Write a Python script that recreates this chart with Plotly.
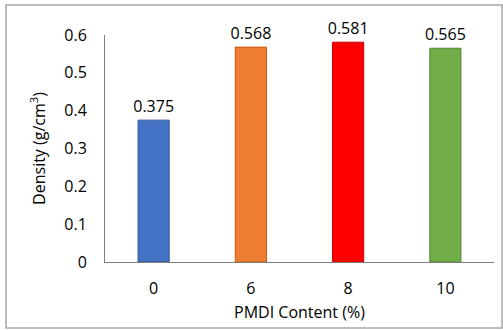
import plotly.graph_objects as go

categories = ["0", "6", "8", "10"]
density = [0.375, 0.568, 0.581, 0.565]
labels = ["0.375", "0.568", "0.581", "0.565"]
colors = ["#4472C4", "#ED7D31", "#FF0000", "#70AD47"]
edge_colors = ["#2F5597", "#C55A11", "#C00000", "#548235"]

font_family = "Open Sans, Liberation Sans, sans-serif"

fig = go.Figure(
    go.Bar(
        x=categories,
        y=density,
        text=labels,
        textposition="outside",
        constraintext="none",
        textfont=dict(size=16, color="#000000", family=font_family),
        marker=dict(color=colors, line=dict(color=edge_colors, width=1)),
        width=0.32,
        cliponaxis=False,
    )
)

fig.update_layout(
    width=503,
    height=330,
    margin=dict(l=105, r=9, t=35, b=68),
    paper_bgcolor="white",
    plot_bgcolor="white",
    showlegend=False,
    font=dict(family=font_family, size=16, color="#000000"),
    xaxis=dict(
        type="category",
        automargin=False,
        showline=True,
        linecolor="#7F7F7F",
        linewidth=1,
        showgrid=False,
        ticks="",
        ticklabelstandoff=12,
        tickfont=dict(size=16),
        title=dict(text="PMDI Content (%)", font=dict(size=16), standoff=8),
    ),
    yaxis=dict(
        range=[0, 0.6],
        dtick=0.1,
        automargin=False,
        showline=True,
        linecolor="#7F7F7F",
        linewidth=1,
        showgrid=False,
        zeroline=False,
        ticks="",
        ticklabelstandoff=14,
        tickfont=dict(size=16),
        title=dict(text="Density (g/cm<sup>3</sup>)", font=dict(size=16), standoff=14),
    ),
    shapes=[
        dict(
            type="rect",
            xref="paper",
            yref="paper",
            x0=-0.2545,
            x1=1.0206,
            y0=-0.2907,
            y1=1.132,
            line=dict(color="#A6A6A6", width=1.5),
            fillcolor="rgba(0,0,0,0)",
            layer="above",
        )
    ],
)

fig.write_html(
    "out.html",
    config={"displayModeBar": False},
    post_script="document.body.style.margin='0';document.body.style.overflow='hidden';",
)
